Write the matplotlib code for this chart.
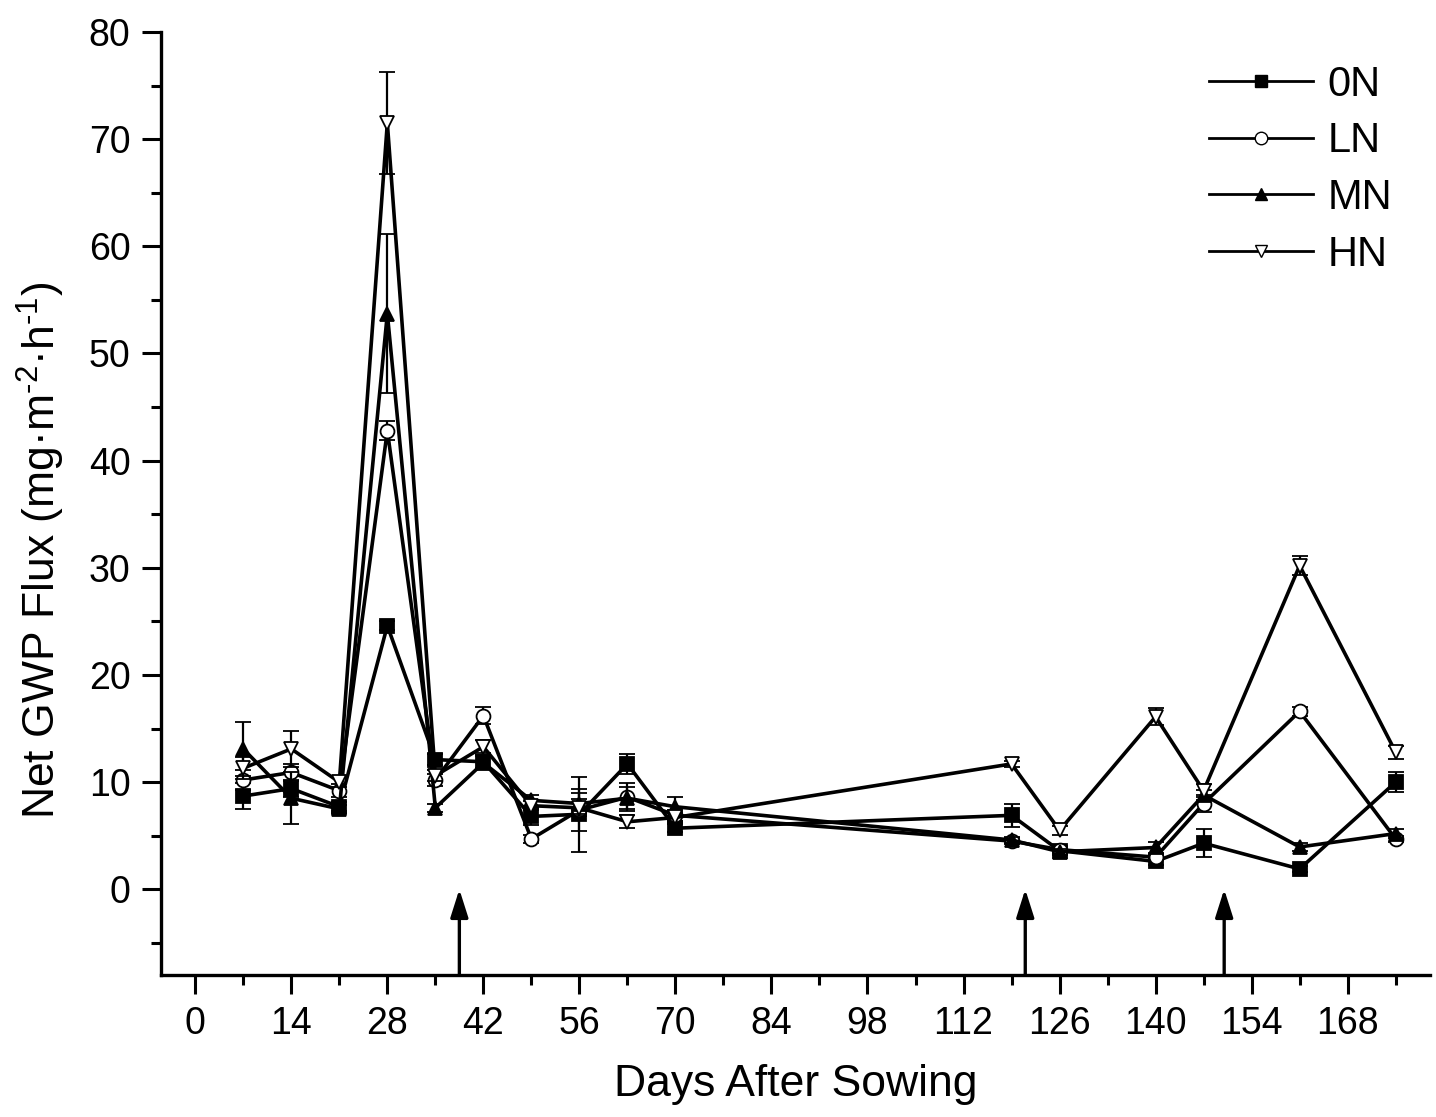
"""Net GWP flux vs days after sowing for four N treatments, with fertiliser arrows."""

import matplotlib

matplotlib.use("Agg")

import matplotlib.pyplot as plt  # noqa: E402
from matplotlib.lines import Line2D  # noqa: E402
from matplotlib.ticker import MultipleLocator  # noqa: E402

plt.rcParams["font.family"] = ["Liberation Sans", "DejaVu Sans"]
plt.rcParams["mathtext.fontset"] = "custom"
plt.rcParams["mathtext.rm"] = "Liberation Sans"
plt.rcParams["mathtext.default"] = "regular"

days = [7, 14, 21, 28, 35, 42, 49, 56, 63, 70, 119, 126, 140, 147, 161, 175]

n0 = [8.7, 9.4, 7.7, 24.6, 12.1, 11.9, 6.8, 7.0, 11.7, 5.7, 6.9, 3.6, 2.6, 4.3, 1.9, 10.0]
n0_err = [1.2, 0.8, 0.4, 0.4, 0.5, 0.6, 0.8, 3.5, 0.9, 0.4, 1.1, 0.3, 0.3, 1.3, 0.3, 0.9]

ln = [10.2, 10.9, 9.2, 42.8, 10.2, 16.2, 4.7, 7.4, 8.6, 6.9, 4.5, 3.7, 3.0, 8.0, 16.6, 4.7]
ln_err = [0.9, 0.8, 0.6, 0.9, 0.6, 0.8, 0.4, 2.0, 1.3, 0.5, 0.3, 0.3, 0.3, 0.8, 0.4, 0.3]

mn = [13.1, 8.5, 7.5, 53.7, 7.6, 11.8, 8.3, 8.0, 8.5, 7.7, 4.6, 3.5, 3.9, 8.8, 3.95, 5.2]
mn_err = [2.5, 2.4, 0.4, 7.4, 0.4, 0.6, 0.5, 1.0, 1.0, 0.9, 0.3, 0.3, 0.5, 0.5, 0.4, 0.4]

hn = [11.3, 13.1, 10.0, 71.5, 10.6, 13.3, 7.8, 7.6, 6.3, 6.7, 11.7, 5.5, 16.1, 9.2, 30.2, 12.8]
hn_err = [1.0, 1.7, 0.5, 4.8, 0.5, 0.6, 0.4, 0.8, 0.6, 0.5, 0.3, 0.4, 0.8, 0.6, 0.9, 0.6]

# fertiliser application days (arrows)
fert_days = [38.5, 121, 150]

series = [
    ("0N", n0, n0_err, "s", "black"),
    ("LN", ln, ln_err, "o", "white"),
    ("MN", mn, mn_err, "^", "black"),
    ("HN", hn, hn_err, "v", "white"),
]

fig = plt.figure(figsize=(14.36, 11.17), dpi=100)
ax = fig.add_axes([0.1121, 0.1271, 0.8837, 0.8443])

handles = []
for i, (name, vals, errs, marker, face) in enumerate(series):
    ax.errorbar(
        days, vals, yerr=errs,
        color="black", lw=2.6, marker=marker, markersize=10,
        markerfacecolor=face, markeredgecolor="black", markeredgewidth=1.3,
        ecolor="black", elinewidth=1.6, capsize=5.5, capthick=1.6,
        zorder=3 + i,
    )
    handles.append(Line2D(
        [], [], color="black", lw=2.0, marker=marker, markersize=9,
        markerfacecolor=face, markeredgecolor="black", markeredgewidth=1.0,
        label=name,
    ))

for d in fert_days:
    ax.annotate(
        "", xy=(d, 0), xytext=(d, -8),
        arrowprops=dict(
            arrowstyle="-|>,head_length=0.85,head_width=0.27",
            mutation_scale=20, lw=2.4, color="black",
            shrinkA=0, shrinkB=0,
        ),
        zorder=2,
    )

ax.set_xlim(-5, 180)
ax.set_ylim(-8, 80)
ax.xaxis.set_minor_locator(MultipleLocator(7))
ax.yaxis.set_minor_locator(MultipleLocator(5))
ax.set_xticks(range(0, 169, 14))
ax.set_yticks(range(0, 81, 10))

for side in ("top", "right"):
    ax.spines[side].set_visible(False)
for side in ("left", "bottom"):
    ax.spines[side].set_linewidth(2.4)

ax.tick_params(which="major", direction="out", length=14, width=2.2, labelsize=27, pad=8)
ax.tick_params(which="minor", direction="out", length=7, width=2.2)

ax.set_xlabel("Days After Sowing", fontsize=32, labelpad=16)
ax.set_ylabel(
    "Net GWP Flux (mg\u00b7m$^{\u20102}$\u00b7h$^{\u20101}$)", fontsize=32
)
ax.yaxis.set_label_coords(-0.074, 0.45)

ax.legend(
    handles=handles, loc="upper right", bbox_to_anchor=(1.0, 1.005),
    frameon=False, fontsize=30,
    handlelength=2.5, handletextpad=0.35, labelspacing=0.4, borderaxespad=0.5,
)

fig.savefig("out.png", dpi=100)
